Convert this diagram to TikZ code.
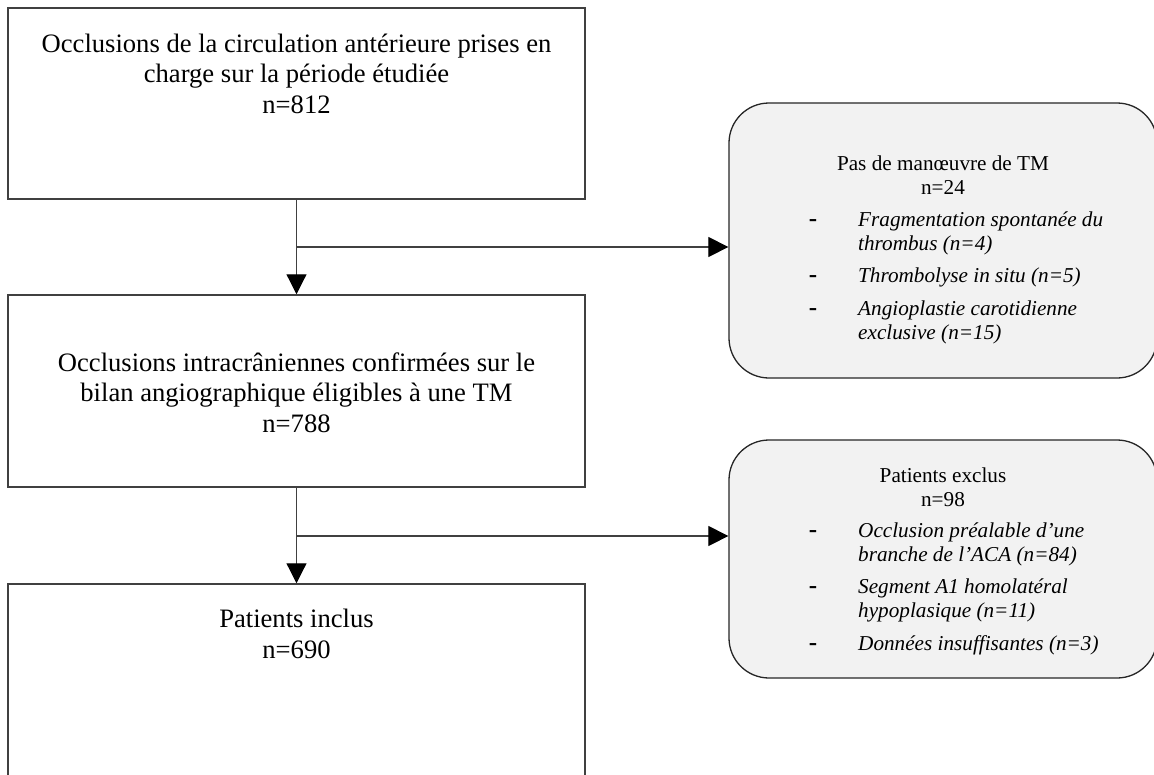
\documentclass[tikz,border=0pt]{standalone}
\usepackage{fontspec}
\setmainfont{Liberation Serif}
\usetikzlibrary{arrows.meta,calc}
\definecolor{edgegray}{HTML}{404040}
\definecolor{boxfill}{HTML}{F2F2F2}
\begin{document}
\begin{tikzpicture}[x=1pt,y=-1pt,
  sqbox/.style={draw=edgegray,line width=1.5pt,rectangle,inner sep=0pt,minimum width=577pt},
  rbox/.style={draw=black!85,fill=boxfill,line width=1.3pt,rounded corners=40pt,inner sep=0pt,minimum width=428pt},
  bigtxt/.style={font=\fontsize{26.6}{30.5}\selectfont,align=center,anchor=base,inner sep=0pt},
  headtxt/.style={font=\fontsize{21.2}{24}\selectfont,align=center,anchor=base,inner sep=0pt},
  itemtxt/.style={font=\fontsize{21.2}{24}\selectfont\itshape,align=left,anchor=base west,inner sep=0pt},
  dashtxt/.style={font=\fontsize{25}{28}\selectfont\bfseries,anchor=base,inner sep=0pt},
  link/.style={draw=edgegray,line width=1.2pt},
  tip/.style={-{Triangle[length=20pt,width=20pt,color=black]}}
]
\useasboundingbox (0,0) rectangle (1154,774);
\clip (0,0) rectangle (1154,774);
\fill[white] (0,0) rectangle (1154,774);

% left boxes
\node[sqbox,minimum height=191pt] (b1) at (296.5,103.5) {};
\node[sqbox,minimum height=192pt] (b2) at (296.5,391) {};
\node[sqbox,minimum height=216pt] (b3) at (296.5,692) {};

% right rounded boxes
\node[rbox,minimum height=275pt] (r1) at (943,240.5) {};
\node[rbox,minimum height=238pt] (r2) at (943,559) {};

% texts left (anchor = baseline of last line)
\node[bigtxt] (t1) at (296.5,113) {Occlusions de la circulation antérieure prises en\\charge sur la période étudiée\\n=812};
\node[bigtxt] (t2) at (296.5,432) {Occlusions intracrâniennes confirmées sur le\\bilan angiographique éligibles à une TM\\n=788};
\node[bigtxt] (t3) at (296.5,658) {Patients inclus\\n=690};

% texts right box 1
\node[headtxt] (h1) at (943,194) {Pas de manœuvre de TM\\n=24};
\node[dashtxt] (d11) at (813,226) {-};
\node[itemtxt] (i11) at (858,250) {Fragmentation spontanée du\\thrombus (n=4)};
\node[dashtxt] (d12) at (813,282) {-};
\node[itemtxt] (i12) at (858,282) {Thrombolyse in situ (n=5)};
\node[dashtxt] (d13) at (813,315) {-};
\node[itemtxt] (i13) at (858,339) {Angioplastie carotidienne\\exclusive (n=15)};

% texts right box 2
\node[headtxt] (h2) at (943,506) {Patients exclus\\n=98};
\node[dashtxt] (d21) at (813,537) {-};
\node[itemtxt] (i21) at (858,561) {Occlusion préalable d’une\\branche de l’ACA (n=84)};
\node[dashtxt] (d22) at (813,593) {-};
\node[itemtxt] (i22) at (858,617) {Segment A1 homolatéral\\hypoplasique (n=11)};
\node[dashtxt] (d23) at (813,650) {-};
\node[itemtxt] (i23) at (858,650) {Données insuffisantes (n=3)};

% connectors
\coordinate (j1) at (296.5,247);
\coordinate (j2) at (296.5,536);
\draw[link,tip] (b1.south) -- (b2.north);
\draw[link,tip] (j1) -- (j1 -| r1.west);
\draw[link,tip] (b2.south) -- (b3.north);
\draw[link,tip] (j2) -- (j2 -| r2.west);
\end{tikzpicture}
\end{document}
